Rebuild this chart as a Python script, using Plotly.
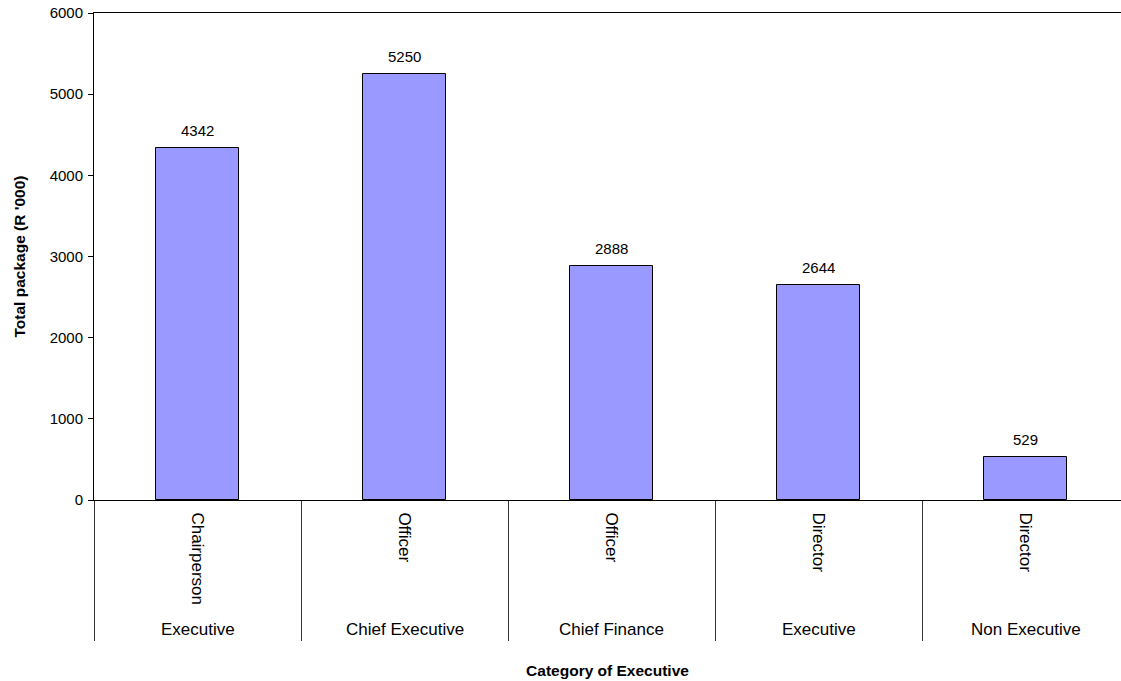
import plotly.graph_objects as go

# ---- data ----
outer_labels = ["Executive", "Chief Executive", "Chief Finance", "Executive", "Non Executive"]
inner_labels = ["Chairperson", "Officer", "Officer", "Director", "Director"]
values = [4342, 5250, 2888, 2644, 529]
y_ticks = [0, 1000, 2000, 3000, 4000, 5000, 6000]

FONT = "Liberation Sans, Arial, sans-serif"
positions = list(range(len(values)))
boundaries = [p - 0.5 for p in positions]

fig = go.Figure()
fig.add_trace(go.Bar(
    x=positions,
    y=values,
    width=0.4,
    marker=dict(color="#9999FF", line=dict(color="#000000", width=1)),
    hoverinfo="skip",
))

# value labels above bars
for p, v in zip(positions, values):
    fig.add_annotation(
        x=p, xref="x", y=v, yref="y",
        text=str(v), showarrow=False,
        font=dict(family=FONT, size=15, color="#000000"),
        xanchor="center", yanchor="bottom", yshift=7,
    )

# outer category labels
for p, lab in zip(positions, outer_labels):
    fig.add_annotation(
        x=p, xref="x", y=-0.266, yref="paper",
        text=lab, showarrow=False,
        font=dict(family=FONT, size=17, color="#000000"),
        xanchor="center", yanchor="middle",
    )

fig.update_layout(
    width=1121, height=681,
    margin=dict(l=94, r=0, t=13, b=181),
    paper_bgcolor="white", plot_bgcolor="white",
    showlegend=False,
    font=dict(family=FONT, color="#000000"),
    bargap=0,
)

fig.update_xaxes(
    range=[-0.5, 4.461],
    tickmode="array", tickvals=positions, ticktext=inner_labels,
    tickangle=90,
    tickfont=dict(family=FONT, size=17, color="#000000"),
    ticks="", ticklabelstandoff=8,
    showline=True, linecolor="#000000", linewidth=1, mirror=True,
    showgrid=False, zeroline=False,
    minor=dict(tickmode="array", tickvals=boundaries, ticks="outside",
               ticklen=140, tickwidth=1, tickcolor="#333333", showgrid=False),
    title=dict(text="<b>Category of Executive</b>", standoff=61,
               font=dict(family=FONT, size=15.5, color="#000000")),
    fixedrange=True,
)

fig.update_yaxes(
    range=[0, 6000],
    tickmode="array", tickvals=y_ticks,
    tickfont=dict(family=FONT, size=15, color="#000000"),
    ticks="outside", ticklen=5, tickcolor="#000000", tickwidth=1,
    ticklabelstandoff=2,
    showline=True, linecolor="#000000", linewidth=1,
    showgrid=False, zeroline=False,
    title=dict(text="<b>Total package (R '000)</b>", standoff=20,
               font=dict(family=FONT, size=15.5, color="#000000")),
    fixedrange=True,
)

fig.write_html("out.html", config={"displayModeBar": False})
